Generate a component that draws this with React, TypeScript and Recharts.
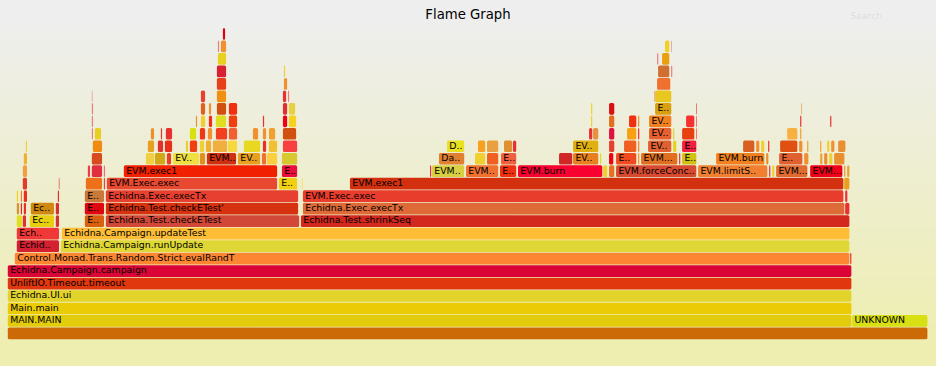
import { ComposedChart, XAxis, YAxis, ReferenceArea } from 'recharts';

// each frame: [start sample, end sample, label shown]
type Frame = [number, number, string];

const TOTAL = 920;
const DEPTH = 25;

const stack0: Frame[] = [[0, 920, '']];
const stack1: Frame[] = [[0, 844, 'MAIN.MAIN'], [844, 920, 'UNKNOWN']];
const stack2: Frame[] = [[0, 844, 'Main.main']];
const stack3: Frame[] = [[0, 844, 'Echidna.UI.ui']];
const stack4: Frame[] = [[0, 844, 'UnliftIO.Timeout.timeout']];
const stack5: Frame[] = [[0, 844, 'Echidna.Campaign.campaign']];
const stack6: Frame[] = [[7, 842, 'Control.Monad.Trans.Random.Strict.evalRandT'], [842, 844, '']];
const stack7: Frame[] = [[9, 52, 'Echid..'], [53, 842, 'Echidna.Campaign.runUpdate']];
const stack8: Frame[] = [[9, 52, 'Ech..'], [54, 842, 'Echidna.Campaign.updateTest']];
const stack9: Frame[] = [
  [9, 15, ''], [15, 19, ''], [22, 47, 'Ec..'], [48, 52, ''], [77, 97, 'E..'],
  [98, 292, 'Echidna.Test.checkETest'], [293, 842, 'Echidna.Test.shrinkSeq'],
];
const stack10: Frame[] = [
  [9, 12, ''], [13, 15, ''], [16, 19, ''], [23, 47, 'Ec..'], [48, 52, ''], [77, 97, 'E..'],
  [98, 291, "Echidna.Test.checkETest'"], [295, 837, 'Echidna.Exec.execTx'], [837, 842, ''],
];
const stack11: Frame[] = [
  [9, 11, ''], [13, 15, ''], [16, 20, ''], [50, 52, ''], [77, 97, 'E..'],
  [98, 291, 'Echidna.Exec.execTx'], [295, 836, 'EVM.Exec.exec'], [837, 840, ''],
];
const stack12: Frame[] = [
  [15, 20, ''], [51, 52, ''], [78, 95, ''], [96, 98, ''], [99, 270, 'EVM.Exec.exec'],
  [271, 290, 'E..'], [294, 295, ''], [342, 836, 'EVM.exec1'], [836, 842, ''],
];
const stack13: Frame[] = [
  [15, 20, ''], [80, 83, ''], [84, 95, ''], [96, 98, ''], [116, 270, 'EVM.exec1'], [274, 290, 'E..'],
  [422, 424, ''], [424, 457, 'EVM..'], [458, 491, 'EVM..'], [492, 509, 'E..'], [510, 595, 'EVM.burn'],
  [595, 600, ''], [601, 607, ''], [608, 689, 'EVM.forceConc..'], [690, 760, 'EVM.limitS..'],
  [761, 763, ''], [764, 767, ''], [768, 800, 'EVM...'], [802, 835, 'EVM...'], [836, 838, ''], [839, 842, ''],
];
const stack14: Frame[] = [
  [16, 20, ''], [84, 95, ''], [138, 147, ''], [147, 158, ''], [159, 164, ''], [165, 192, 'EV..'],
  [192, 198, ''], [199, 229, 'EVM..'], [230, 253, 'EV..'], [254, 259, ''], [259, 270, ''], [274, 290, ''],
  [431, 457, 'Da..'], [467, 478, ''], [479, 491, ''], [493, 509, 'E..'], [551, 565, ''], [565, 591, 'EV..'],
  [592, 594, ''], [601, 606, ''], [608, 629, 'E..'], [630, 632, ''], [633, 670, 'EVM...'], [671, 673, ''],
  [674, 689, 'E..'], [708, 757, 'EVM.burn'], [758, 761, ''], [771, 795, 'E..'], [796, 801, ''],
  [812, 815, ''], [816, 820, ''], [821, 825, ''], [826, 837, ''],
];
const stack15: Frame[] = [
  [18, 20, ''], [85, 95, ''], [140, 147, ''], [150, 156, ''], [157, 165, ''], [178, 181, ''],
  [182, 190, ''], [192, 197, ''], [198, 204, ''], [205, 220, ''], [220, 230, ''], [236, 253, ''],
  [255, 259, ''], [261, 270, ''], [275, 290, ''],
  [439, 457, 'D..'], [470, 478, ''], [479, 491, ''], [496, 505, ''], [505, 509, ''], [565, 591, 'EV..'],
  [601, 607, ''], [616, 629, ''], [630, 632, ''], [640, 664, 'EV..'], [665, 669, ''], [674, 689, 'E..'],
  [735, 747, ''], [748, 752, ''], [753, 757, ''], [760, 762, ''], [772, 790, ''], [791, 795, ''],
  [799, 801, ''], [812, 814, ''], [819, 822, ''], [823, 827, ''], [830, 838, ''],
];
const stack16: Frame[] = [
  [84, 86, ''], [87, 94, ''], [143, 147, ''], [153, 155, ''], [158, 165, ''], [182, 189, ''],
  [192, 198, ''], [200, 205, ''], [208, 220, ''], [221, 230, ''], [245, 251, ''], [255, 259, ''],
  [261, 268, ''], [275, 289, ''],
  [581, 585, ''], [585, 591, ''], [601, 607, ''], [619, 629, ''], [630, 632, ''], [641, 664, 'EV..'],
  [665, 667, ''], [674, 687, ''], [688, 689, ''], [779, 790, ''], [792, 794, ''],
];
const stack17: Frame[] = [
  [84, 86, ''], [188, 190, ''], [193, 198, ''], [201, 205, ''], [208, 219, ''], [221, 230, ''],
  [255, 257, ''], [275, 280, ''], [281, 289, ''],
  [583, 585, ''], [601, 607, ''], [621, 629, ''], [630, 632, ''], [641, 664, 'EV..'], [678, 687, ''],
  [688, 689, ''], [792, 794, ''], [822, 824, ''],
];
const stack18: Frame[] = [
  [84, 86, ''], [193, 198, ''], [201, 204, ''], [209, 219, ''], [221, 230, ''], [275, 280, ''], [281, 288, ''],
  [583, 585, ''], [601, 607, ''], [647, 664, 'E..'], [688, 689, ''], [793, 794, ''],
];
const stack19: Frame[] = [
  [84, 85, ''], [193, 198, ''], [209, 219, ''], [275, 279, ''], [280, 282, ''], [646, 647, ''], [647, 664, ''],
];
const stack20: Frame[] = [[209, 219, ''], [276, 280, ''], [649, 663, '']];
const stack21: Frame[] = [[209, 219, ''], [276, 278, ''], [650, 662, ''], [663, 665, '']];
const stack22: Frame[] = [[210, 219, ''], [649, 651, ''], [654, 662, '']];
const stack23: Frame[] = [[210, 212, ''], [213, 219, ''], [657, 662, ''], [663, 664, '']];
const stack24: Frame[] = [[215, 218, '']];

const colors0 = ['#cc6a08'];
const colors1 = ['#e3cc0c', '#d8df12'];
const colors2 = ['#ebcb05'];
const colors3 = ['#e2d32a'];
const colors4 = ['#e0370e'];
const colors5 = ['#db0436'];
const colors6 = ['#fd8633', '#f03030'];
const colors7 = ['#d42030', '#dfd735'];
const colors8 = ['#f03838', '#fdbd35'];
const colors9 = ['#e0e020', '#e03030', '#e8d010', '#d83030', '#d86010', '#d24838', '#d2281e'];
const colors10 = ['#d89030', '#e02828', '#e83028', '#d08810', '#d83030', '#e00810', '#d63210', '#de6a38', '#e83030'];
const colors11 = ['#f0d020', '#f08020', '#e83020', '#e03030', '#c87838', '#e84030', '#e83c2c', '#e83040'];
const colors12 = ['#e03a28', '#e03030', '#ee7018', '#e84040', '#e84830', '#f0d010', '#f0e030', '#d3300f', '#e8a020'];
const colors13 = [
  '#f0a040', '#e84040', '#e03040', '#e87080', '#f02000', '#e8103a',
  '#e83030', '#d8d040', '#f07030', '#f03010', '#f80030', '#f0d030', '#e87020', '#d84a30', '#f08030',
  '#e83030', '#f0d030', '#e06a30', '#f00018', '#f09030', '#e8a030',
];
const colors14 = [
  '#f0b030', '#d84a20', '#f0d040', '#d0a818', '#e84020', '#eee040', '#e09020', '#d03010', '#e8a020',
  '#f07030', '#f8d040', '#d8c830',
  '#e08030', '#f0d030', '#f06020', '#f06040', '#d02828', '#e88020', '#d8e020', '#f00010', '#f04a20',
  '#f09030', '#e07020', '#e83030', '#d0c010', '#f08020', '#e89030', '#e06030', '#f09030', '#f0a030',
  '#e89030', '#f0d030', '#e89030',
];
const colors15 = [
  '#f0d030', '#f08a10', '#e8a020', '#e03030', '#e83018', '#e8d030', '#f04010', '#f0d030', '#f0b030',
  '#f0b040', '#f8d840', '#e8d820', '#e83020', '#f0c030', '#f84040',
  '#e8e020', '#f8a020', '#e8a040', '#e09030', '#e83030', '#e0b010', '#e84030', '#f06020', '#f08030',
  '#e06030', '#e8d020', '#f02040', '#d86020', '#f09030', '#f0d030', '#e83030', '#e05010', '#f09030',
  '#f0a030', '#f0a030', '#f0d030', '#f09030', '#e89030',
];
const colors16 = [
  '#e88080', '#e8d020', '#e89030', '#e83030', '#e83030', '#d8e010', '#f03818', '#f09030', '#f04020',
  '#f06030', '#f09030', '#f09030', '#f0a030', '#d05010',
  '#e83030', '#e89040', '#e01040', '#f8a010', '#e83030', '#e86030', '#e8d020', '#e84010', '#e83030',
  '#f8b040', '#f0a030',
];
const colors17 = [
  '#e88080', '#f09030', '#f0d030', '#f03010', '#e0dc20', '#f04010', '#e83030', '#f00010', '#f8d020',
  '#f0d030', '#e07020', '#f03010', '#e89030', '#f08020', '#f83030', '#e83030', '#e83030', '#e83030',
];
const colors18 = [
  '#e88080', '#e06020', '#f09030', '#d05010', '#f03010', '#e03030', '#e8d040',
  '#f0d030', '#d81010', '#d8a010', '#e83030', '#e89030',
];
const colors19 = ['#e88080', '#e84030', '#f09010', '#e83030', '#e88080', '#e88080', '#e8c820'];
const colors20 = ['#e84018', '#f09030', '#f07030'];
const colors21 = ['#d82030', '#f0d030', '#d07030', '#e88080'];
const colors22 = ['#e8d020', '#e88080', '#e8a010'];
const colors23 = ['#e88080', '#f09030', '#f0d020', '#e88080'];
const colors24 = ['#e00010'];

const stacks = [
  stack0, stack1, stack2, stack3, stack4, stack5, stack6, stack7, stack8, stack9, stack10, stack11, stack12,
  stack13, stack14, stack15, stack16, stack17, stack18, stack19, stack20, stack21, stack22, stack23, stack24,
];
const palettes = [
  colors0, colors1, colors2, colors3, colors4, colors5, colors6, colors7, colors8, colors9, colors10, colors11,
  colors12, colors13, colors14, colors15, colors16, colors17, colors18, colors19, colors20, colors21, colors22,
  colors23, colors24,
];

const FONT = "'DejaVu Sans', Verdana, sans-serif";

function FrameBox(props: any) {
  const { x, y, width, height, color, text } = props;
  if (x == null || width == null) return null;
  const w = Math.max(width - 0.8, 0.6);
  return (
    <g>
      <rect x={x} y={y} width={w} height={height - 0.78} rx={1.56} ry={1.56} fill={color} />
      {text ? (
        <text x={x + 2.34} y={y + 8.19} fontSize={9.36} fontFamily={FONT} fill="#000">
          {text}
        </text>
      ) : null}
    </g>
  );
}

export default function App() {
  return (
    <div
      style={{
        position: 'absolute',
        left: 0,
        top: 0,
        width: 936,
        height: 366,
        background: 'linear-gradient(#eeeeee 5%, #eeeeb0 95%)',
      }}
    >
      <ComposedChart width={936} height={366} margin={{ top: 28.08, right: 7.8, bottom: 25.92, left: 7.8 }}>
        <XAxis type="number" dataKey="x" domain={[0, TOTAL]} allowDataOverflow hide />
        <YAxis type="number" dataKey="y" domain={[0, DEPTH]} allowDataOverflow hide />
        {stacks.map((frames, depth) =>
          frames.map((f, i) => (
            <ReferenceArea
              key={`${depth}-${i}`}
              x1={f[0]}
              x2={f[1]}
              y1={depth}
              y2={depth + 1}
              ifOverflow="visible"
              shape={(p: any) => <FrameBox {...p} color={palettes[depth][i]} text={f[2]} />}
            />
          ))
        )}
      </ComposedChart>
      <svg width={936} height={366} style={{ position: 'absolute', left: 0, top: 0, pointerEvents: 'none' }}>
        <text x={468} y={18.72} textAnchor="middle" fontSize={13.26} fontFamily={FONT} fill="#000">
          Flame Graph
        </text>
        <text x={850.2} y={18.72} fontSize={9.36} fontFamily={FONT} fill="#000" fillOpacity={0.1}>
          Search
        </text>
      </svg>
    </div>
  );
}
